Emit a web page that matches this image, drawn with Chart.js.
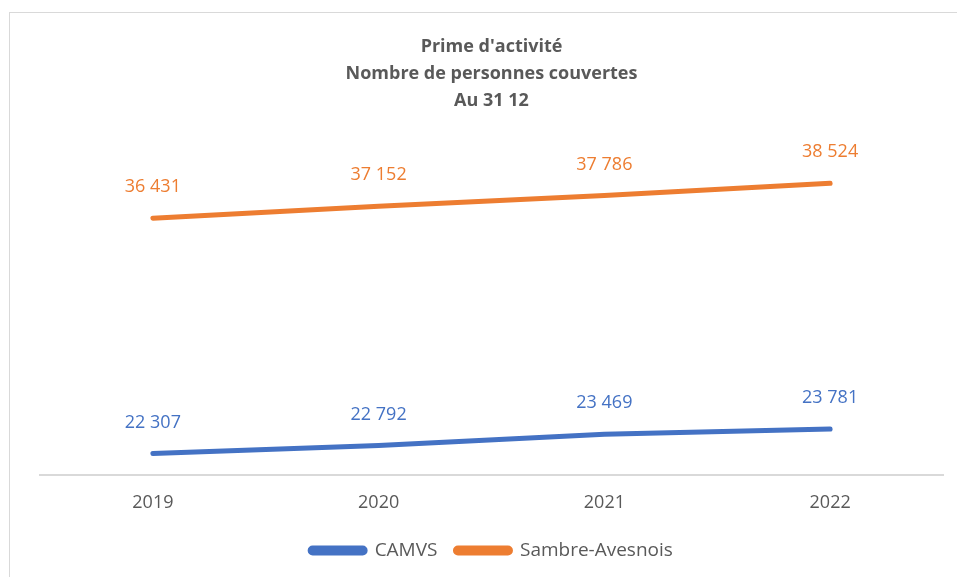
<!DOCTYPE html>
<html>
<head>
<meta charset="utf-8">
<script src="https://cdn.jsdelivr.net/npm/chart.js@4"></script>
<style>
  html, body { margin: 0; padding: 0; background: #fff; overflow: hidden; }
  #wrap { position: relative; width: 957px; height: 577px; }
  #frame { position: absolute; left: 9px; top: 12px; width: 960px; height: 580px; border: 1px solid #d9d9d9; pointer-events: none; }
</style>
</head>
<body>
<div id="wrap">
  <canvas id="chart" width="957" height="577"></canvas>
  <div id="frame"></div>
</div>
<script>
// Chart values
const years = ['2019', '2020', '2021', '2022'];
const camvs = [22307, 22792, 23469, 23781];
const sambreAvesnois = [36431, 37152, 37786, 38524];
const titleLines = ["Prime d'activité", 'Nombre de personnes couvertes', 'Au 31 12'];

const fontFamily = "'Open Sans', 'Liberation Sans', sans-serif";

// Format numbers with a space as thousands separator
function formatNumber(v) {
    return String(v).replace(/\B(?=(\d{3})+(?!\d))/g, ' ');
}

// Draw the value above each point
const pointLabels = {
    id: 'pointLabels',
    afterDatasetsDraw(chart) {
        const ctx = chart.ctx;
        ctx.save();
        ctx.font = '18px ' + fontFamily;
        ctx.textAlign = 'center';
        ctx.textBaseline = 'middle';
        chart.data.datasets.forEach((ds, i) => {
            const meta = chart.getDatasetMeta(i);
            ctx.fillStyle = ds.borderColor;
            meta.data.forEach((pt, j) => {
                ctx.fillText(formatNumber(ds.data[j]), pt.x, pt.y - 31);
            });
        });
        ctx.restore();
    }
};

const ctx = document.getElementById('chart').getContext('2d');
new Chart(ctx, {
    type: 'line',
    data: {
        labels: years,
        datasets: [{
            label: 'CAMVS',
            data: camvs,
            borderColor: '#4472C4',
            backgroundColor: '#4472C4',
            borderWidth: 5,
            borderCapStyle: 'round',
            pointRadius: 0,
            tension: 0
        },
        {
            label: 'Sambre-Avesnois',
            data: sambreAvesnois,
            borderColor: '#ED7D31',
            backgroundColor: '#ED7D31',
            borderWidth: 5,
            borderCapStyle: 'round',
            pointRadius: 0,
            tension: 0
        }]
    },
    options: {
        responsive: false,
        animation: false,
        layout: {
            padding: { left: 40, right: 14, top: 0, bottom: 7 }
        },
        scales: {
            x: {
                offset: true,
                grid: { display: false },
                border: { display: true, color: '#d9d9d9', width: 2 },
                ticks: {
                    color: '#595959',
                    font: { family: fontFamily, size: 18 },
                    padding: 9
                }
            },
            y: {
                display: false,
                min: 21000,
                max: 41000
            }
        },
        plugins: {
            title: {
                display: true,
                text: titleLines,
                color: '#595959',
                font: { family: fontFamily, size: 18, weight: 'bold', lineHeight: 1.5 },
                padding: { top: 33, bottom: 28 }
            },
            legend: {
                position: 'bottom',
                labels: {
                    color: '#595959',
                    font: { family: fontFamily, size: 19 },
                    boxWidth: 55,
                    boxHeight: 5,
                    useBorderRadius: true,
                    borderRadius: 2.5,
                    padding: 18
                }
            },
            tooltip: { enabled: false }
        }
    },
    plugins: [pointLabels]
});
</script>
</body>
</html>
